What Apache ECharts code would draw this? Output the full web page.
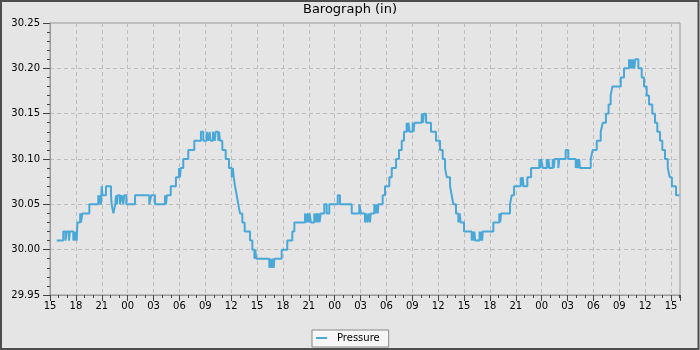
<!DOCTYPE html>
<html>
<head>
<meta charset="utf-8">
<script src="https://cdn.jsdelivr.net/npm/echarts@6/dist/echarts.min.js"></script>
<style>
html,body{margin:0;padding:0;background:#e5e5e5;}
#chart{width:700px;height:350px;}
</style>
</head>
<body>
<div id="chart"></div>
<script>
// x in hours since 15:00 of the first day
const titleText = 'Barograph (in)';
const seriesName = 'Pressure';
const startHour = 15;
const hours = [
0.78,1.54,1.80,1.95,2.20,2.30,2.70,2.78,2.90,3.00,3.10,3.17,3.50,3.60,3.75,4.56,
5.60,5.70,5.80,5.90,6.00,6.08,6.49,7.07,7.15,7.35,7.57,7.65,7.75,7.85,8.10,8.30,8.50,8.60,8.85,
9.86,11.51,11.74,12.17,13.33,13.45,13.55,14.00,14.60,14.96,15.07,15.15,15.45,16.03,16.73,
17.50,17.77,18.17,18.35,18.50,18.63,18.90,19.10,19.20,19.50,19.60,19.71,19.98,20.37,20.75,
21.07,21.20,21.30,21.45,21.65,21.83,22.03,22.30,22.57,23.19,23.46,23.70,23.80,23.90,
25.43,25.60,25.70,25.85,25.95,26.00,26.86,27.51,28.09,28.33,
29.57,29.75,29.85,30.00,30.10,30.25,30.64,30.80,30.90,31.05,31.15,31.25,31.39,31.80,32.08,32.38,
33.36,33.62,34.98,35.86,36.06,36.52,36.70,36.80,37.00,37.10,37.18,37.60,37.75,37.85,38.00,38.06,
38.57,38.84,39.34,39.62,40.12,40.46,40.78,41.04,41.35,41.45,41.55,41.70,42.05,42.15,42.25,
43.10,43.25,43.35,43.60,44.17,44.75,45.22,45.53,45.80,46.00,46.38,46.57,46.76,47.07,47.34,47.50,47.60,
48.00,48.89,49.00,49.10,49.20,49.30,49.80,49.90,50.00,50.10,50.17,51.40,52.09,52.20,52.30,
53.33,53.53,53.80,54.57,54.70,54.80,54.90,55.34,55.77,56.73,56.85,56.95,57.13,57.59,57.70,57.80,57.89,
58.28,58.40,58.50,58.93,59.05,59.79,60.09,60.95,61.10,61.20,61.35,61.45,62.69,62.92,63.39,63.85,
64.08,64.45,64.76,65.00,65.20,66.17,66.55,67.13,67.25,67.35,67.50,67.60,67.75,67.85,
68.21,68.60,68.87,69.18,69.45,69.83,70.14,70.41,70.72,70.99,71.30,71.62,71.85,72.10,72.58,72.96
];
const pressure = [
30.01,30.02,30.01,30.02,30.01,30.02,30.01,30.02,30.01,30.02,30.01,30.03,30.04,30.03,30.04,30.05,
30.06,30.05,30.06,30.05,30.07,30.06,30.07,30.06,30.05,30.04,30.05,30.06,30.05,30.06,30.05,30.06,30.05,30.06,30.05,
30.06,30.05,30.06,30.05,30.06,30.05,30.06,30.07,30.08,30.09,30.08,30.09,30.10,30.11,30.12,
30.13,30.12,30.13,30.12,30.13,30.12,30.13,30.12,30.13,30.12,30.13,30.12,30.11,30.10,30.09,
30.08,30.09,30.08,30.07,30.06,30.05,30.04,30.03,30.02,30.01,30.00,29.99,30.00,29.99,
29.98,29.99,29.98,29.99,29.98,29.99,30.00,30.01,30.02,30.03,
30.04,30.03,30.04,30.03,30.04,30.03,30.04,30.03,30.04,30.03,30.04,30.03,30.04,30.05,30.04,30.05,
30.06,30.05,30.04,30.05,30.04,30.03,30.04,30.03,30.04,30.03,30.04,30.05,30.04,30.05,30.04,30.05,
30.06,30.07,30.08,30.09,30.10,30.11,30.12,30.13,30.14,30.13,30.14,30.13,30.14,30.13,30.14,
30.15,30.14,30.15,30.14,30.13,30.12,30.11,30.10,30.09,30.08,30.07,30.06,30.05,30.04,30.03,30.04,30.03,
30.02,30.01,30.02,30.01,30.02,30.01,30.02,30.01,30.02,30.01,30.02,30.03,30.04,30.03,30.04,
30.05,30.06,30.07,30.08,30.07,30.08,30.07,30.08,30.09,30.10,30.09,30.10,30.09,30.10,30.09,30.10,30.09,
30.10,30.09,30.10,30.09,30.10,30.11,30.10,30.09,30.10,30.09,30.10,30.09,30.10,30.11,30.12,30.13,
30.14,30.15,30.16,30.17,30.18,30.19,30.20,30.21,30.20,30.21,30.20,30.21,30.20,30.21,
30.20,30.19,30.18,30.17,30.16,30.15,30.14,30.13,30.12,30.11,30.10,30.09,30.08,30.07,30.06,30.06
];
const xMin = 0, xMax = 73.04, xStep = 3;
const yMin = 29.95, yMax = 30.25, yStep = 0.05;

const data = hours.map((h, i) => [h, pressure[i]]);
const font = 'DejaVu Sans';
const lineColor = '#4aa8d8';
const chart = echarts.init(document.getElementById('chart'), null, {renderer: 'canvas'});
chart.setOption({
  animation: false,
  backgroundColor: '#e5e5e5',
  textStyle: {fontFamily: font},
  title: {
    text: titleText, left: 'center', top: 3, padding: 0,
    textStyle: {fontFamily: font, fontSize: 13, fontWeight: 'normal', color: '#000'}
  },
  grid: {
    left: 50, top: 23, right: 20, bottom: 55,
    show: true, borderColor: '#999', borderWidth: 1, backgroundColor: 'transparent'
  },
  legend: {
    data: [{name: seriesName, icon: 'rect', itemStyle: {color: lineColor}}],
    left: 312, top: 330,
    padding: [3, 9, 4, 4],
    itemWidth: 11, itemHeight: 2,
    backgroundColor: '#f6f6f6', borderColor: '#888', borderWidth: 1, borderRadius: 0,
    textStyle: {fontFamily: font, fontSize: 10, color: '#000', padding: [0, 0, 0, 5]}
  },
  xAxis: {
    type: 'value', min: xMin, max: xMax, interval: xStep,
    axisLine: {show: true, lineStyle: {color: '#999'}},
    axisTick: {show: true, length: 6, lineStyle: {color: '#444'}},
    minorTick: {show: true, splitNumber: 3, length: 3, lineStyle: {color: '#444'}},
    axisLabel: {
      margin: 6, fontFamily: font, fontSize: 10, color: '#000', showMaxLabel: false,
      formatter: v => {
        const r = Math.round(v);
        if (Math.abs(v - r) > 1e-6 || r % 3 !== 0) return '';
        return String((startHour + r) % 24).padStart(2, '0');
      }
    },
    splitLine: {show: true, lineStyle: {color: '#bdbdbd', type: [4, 3], width: 1}}
  },
  yAxis: {
    type: 'value', min: yMin, max: yMax, interval: yStep,
    axisLine: {show: true, lineStyle: {color: '#999'}},
    axisTick: {show: true, length: 7, lineStyle: {color: '#444'}},
    minorTick: {show: true, splitNumber: 5, length: 3, lineStyle: {color: '#444'}},
    axisLabel: {margin: 10, fontFamily: font, fontSize: 10, color: '#000', formatter: v => v.toFixed(2)},
    splitLine: {show: true, lineStyle: {color: '#bdbdbd', type: [4, 3], width: 1}}
  },
  series: [{
    name: seriesName, type: 'line', step: 'end', data: data,
    symbol: 'none', sampling: 'none',
    lineStyle: {color: lineColor, width: 2},
    itemStyle: {color: lineColor}
  }],
  graphic: [{
    type: 'rect', silent: true, z: 100,
    shape: {x: 1, y: 1, width: 697.5, height: 348},
    style: {fill: null, stroke: '#4d4d4d', lineWidth: 2}
  }]
});
</script>
</body>
</html>
